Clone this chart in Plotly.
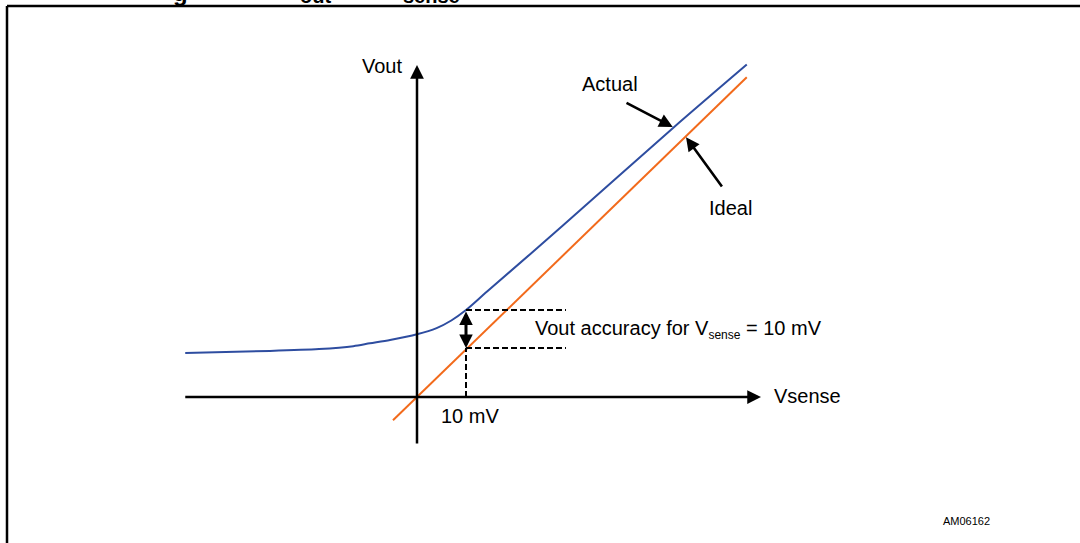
import plotly.graph_objects as go

# ---------------- data (Vsense in mV, Vout in normalised units) ----------------
ideal_vsense = [-4.9, 67.3]
ideal_vout = [-4.9, 67.3]

actual_vsense = [-47.3, -30.0, -20.0, -13.0, -9.6, -5.5, 0.0, 4.0, 7.0, 10.0, 14.3, 30.0, 52.2, 67.3]
actual_vout = [9.25, 9.7, 10.1, 10.7, 11.3, 12.0, 13.2, 14.5, 16.1, 18.3, 22.2, 36.3, 56.6, 70.0]

vsense_point = 10.0          # 10 mV marker
vout_actual_at_point = 18.3
vout_ideal_at_point = 10.3

labels = {
    "vout": "Vout",
    "vsense": "Vsense",
    "actual": "Actual",
    "ideal": "Ideal",
    "tick": "10 mV",
    "accuracy": "Vout accuracy for V<sub><span style=\"font-size:12px\">sense</span></sub> = 10 mV",
    "code": "AM06162",
}

# ---------------- layout geometry ----------------
W, H = 1080, 543
OX, OY = 417, 397           # pixel position of origin
SX, SY = 4.9, 4.75          # pixels per unit
xr = [-OX / SX, (W - OX) / SX]
yr = [(OY - H) / SY, OY / SY]

FONT = "Liberation Sans, Arial, sans-serif"
BLUE = "#2E4DA0"
ORANGE = "#F26A1B"

fig = go.Figure()
fig.add_trace(go.Scatter(x=ideal_vsense, y=ideal_vout, mode="lines",
                         line=dict(color=ORANGE, width=2), hoverinfo="skip"))
fig.add_trace(go.Scatter(x=actual_vsense, y=actual_vout, mode="lines",
                         line=dict(color=BLUE, width=2, shape="spline", smoothing=0.8),
                         hoverinfo="skip"))

ann = []
def arrow(x, y, ax, ay, width=2.5, size=1.0, side="end"):
    ann.append(dict(x=x, y=y, ax=ax, ay=ay, xref="x", yref="y", axref="x", ayref="y",
                    text="", showarrow=True, arrowhead=2, arrowsize=size,
                    arrowwidth=width, arrowcolor="black", arrowside=side, standoff=0,
                    startstandoff=0))

# axes with arrowheads
arrow(70.2, 0, -47.6, 0, width=2.5, size=1.1)
arrow(0, 69.9, 0, -10.1, width=2.5, size=1.1)
# pointer arrows
arrow(52.2, 56.85, 42.45, 62.1, width=2.6, size=1.05)
arrow(54.9, 54.7, 62.45, 44.0, width=2.6, size=1.05)
# accuracy double arrow
arrow(vsense_point, vout_ideal_at_point, vsense_point, vout_actual_at_point,
      width=3, size=0.9, side="end+start")

def text(x, y, t, size=20, xanchor="center", xref="x", yref="y"):
    ann.append(dict(x=x, y=y, xref=xref, yref=yref, text=t,
                    showarrow=False, xanchor=xanchor, yanchor="middle",
                    font=dict(family=FONT, size=size, color="black")))

text(-7.14, 69.7, labels["vout"])
text(72.4, 0.2, labels["vsense"], xanchor="left")
text(39.4, 65.9, labels["actual"])
text(63.9, 39.8, labels["ideal"])
text(10.8, -4.0, labels["tick"])
text(23.6, 14.3, labels["accuracy"], xanchor="left")
text(966 / W, 1 - 521 / H, labels["code"], size=11, xref="paper", yref="paper")

# clipped title fragments at the very top
for cx, cy, t, sz in [(180, -7, "g", 24), (315, -4, "out", 20), (431, -4, "sense", 20)]:
    ann.append(dict(x=cx / W, y=1 - cy / H, xref="paper", yref="paper", text=f"<b>{t}</b>",
                    showarrow=False, xanchor="center", yanchor="middle",
                    font=dict(family=FONT, size=sz, color="black")))

shapes = []
dash = dict(color="black", width=2, dash="6px,3px")
shapes.append(dict(type="line", xref="x", yref="y", x0=vsense_point, x1=30.4,
                   y0=vout_actual_at_point, y1=vout_actual_at_point, line=dash))
shapes.append(dict(type="line", xref="x", yref="y", x0=vsense_point, x1=30.4,
                   y0=vout_ideal_at_point, y1=vout_ideal_at_point, line=dash))
shapes.append(dict(type="line", xref="x", yref="y", x0=vsense_point, x1=vsense_point,
                   y0=0, y1=vout_ideal_at_point, line=dash))
# frame (top and left edges)
shapes.append(dict(type="line", xref="paper", yref="paper", x0=7 / W, x1=1.01,
                   y0=1 - 6 / H, y1=1 - 6 / H, line=dict(color="black", width=2.5)))
shapes.append(dict(type="line", xref="paper", yref="paper", x0=7 / W, x1=7 / W,
                   y0=1 - 6 / H, y1=-0.01, line=dict(color="black", width=2.5)))

fig.update_layout(
    width=W, height=H, margin=dict(l=0, r=0, t=0, b=0),
    paper_bgcolor="white", plot_bgcolor="white", showlegend=False,
    xaxis=dict(range=xr, visible=False, fixedrange=True),
    yaxis=dict(range=yr, visible=False, fixedrange=True),
    annotations=ann, shapes=shapes,
)

fig.write_html("out.html", config={"displayModeBar": False},
               post_script="document.body.style.margin='0';")
